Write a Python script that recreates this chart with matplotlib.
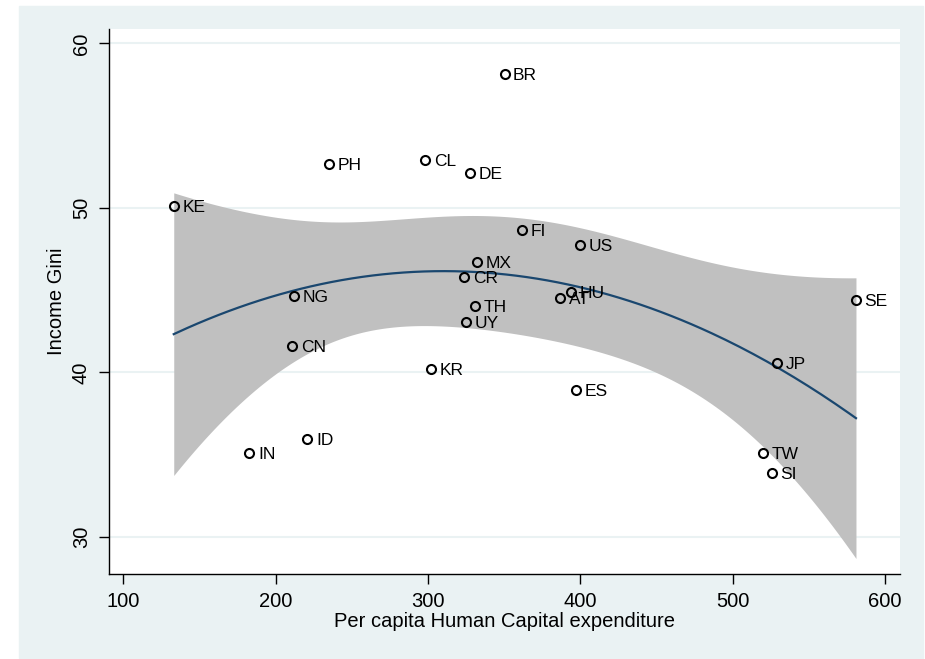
import numpy as np
import matplotlib
matplotlib.use("Agg")
import matplotlib.pyplot as plt
from matplotlib.patches import Rectangle

# === data ===
countries = ["BR", "PH", "CL", "DE", "KE", "FI", "US", "MX", "CR", "NG", "HU", "AT",
             "SE", "TH", "UY", "CN", "JP", "KR", "ES", "ID", "IN", "TW", "SI"]
hc_spend = [350.2, 234.9, 298.1, 327.6, 133.1, 361.8, 399.9, 332.2, 323.7, 212.1, 394.0, 386.9,
            580.9, 330.9, 325.0, 211.0, 529.0, 301.8, 397.0, 220.8, 182.7, 519.8, 525.7]
gini = [58.14, 52.67, 52.90, 52.13, 50.12, 48.66, 47.73, 46.74, 45.83, 44.62, 44.90, 44.53,
        44.41, 44.01, 43.04, 41.60, 40.55, 40.20, 38.92, 35.95, 35.12, 35.10, 33.86]

x_ticks = [100, 200, 300, 400, 500, 600]
y_ticks = [30, 40, 50, 60]

BG = "#EAF2F3"
NAVY = "#1A476F"

plt.rcParams["font.family"] = ["Liberation Sans", "DejaVu Sans"]


# === quadratic fit with 95% CI of the prediction (like Stata qfitci) ===
def qfit_ci(x, y, t_crit=2.086, npts=200):
    x = np.asarray(x)
    y = np.asarray(y)
    n = len(x)
    X = np.column_stack([np.ones(n), x, x ** 2])
    beta, *_ = np.linalg.lstsq(X, y, rcond=None)
    resid = y - X @ beta
    s2 = resid @ resid / (n - 3)
    xtx_inv = np.linalg.inv(X.T @ X)
    xs = np.linspace(x.min(), x.max(), npts)
    Xs = np.column_stack([np.ones_like(xs), xs, xs ** 2])
    fit = Xs @ beta
    se = np.sqrt(s2 * np.einsum("ij,jk,ik->i", Xs, xtx_inv, Xs))
    return xs, fit, fit - t_crit * se, fit + t_crit * se


W, H = 925, 659
fig = plt.figure(figsize=(W / 100, H / 100), dpi=100)
fig.patch.set_facecolor("white")
fig.patches.append(Rectangle((19 / W, 1 - 658 / H), (923 - 19) / W, (658 - 6) / H,
                             transform=fig.transFigure, color=BG, zorder=-10))

ax = fig.add_axes([109 / W, 1 - 573.7 / H, (900 - 109) / W, (573.7 - 29) / H])
ax.set_facecolor("white")

xs, fit, lo, hi = qfit_ci(hc_spend, gini)
ax.fill_between(xs, lo, hi, color="#C0C0C0", linewidth=0, zorder=1)
ax.plot(xs, fit, color=NAVY, linewidth=1.6, zorder=2)

ax.plot(hc_spend, gini, linestyle="none", marker="o", markersize=6.5,
        markerfacecolor="none", markeredgecolor="black", markeredgewidth=1.5, zorder=3)
for name, xv, yv in zip(countries, hc_spend, gini):
    ax.annotate(name, (xv, yv), xytext=(6.2, 0), textcoords="offset points",
                va="center_baseline", ha="left", fontsize=12.5, zorder=4)

ax.set_xlim(90.6, 609.8)
ax.set_ylim(27.77, 60.87)
ax.set_xticks(x_ticks)
ax.set_yticks(y_ticks)
ax.set_yticklabels([str(v) for v in y_ticks], rotation=90, va="center")

ax.yaxis.grid(True, color=BG, linewidth=1.5, zorder=0)
ax.set_axisbelow(True)

for side in ["top", "right"]:
    ax.spines[side].set_visible(False)
for side in ["left", "bottom"]:
    ax.spines[side].set_linewidth(1.0)
ax.tick_params(axis="both", direction="out", length=7, width=1.0, labelsize=14.5, pad=6)

ax.set_xlabel("Per capita Human Capital expenditure", fontsize=14.5, labelpad=1)
ax.set_ylabel("Income Gini", fontsize=14.5, labelpad=4)

fig.savefig("out.png", dpi=100)
